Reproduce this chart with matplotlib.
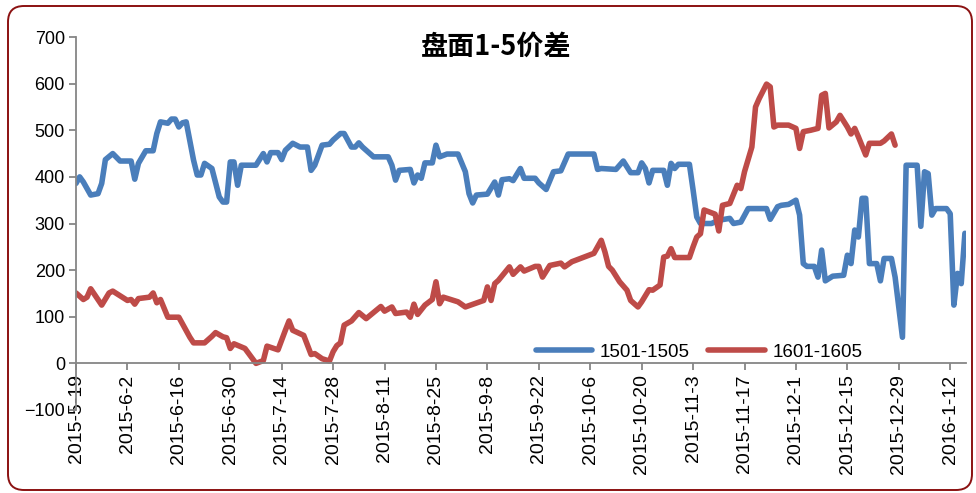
import matplotlib
matplotlib.use('Agg')
import matplotlib.pyplot as plt
import matplotlib.patches as mpatches
import matplotlib.dates as mdates
from matplotlib.transforms import IdentityTransform
import pandas as pd

plt.rcParams['font.family'] = ['Liberation Sans', 'Noto Sans CJK SC', 'DejaVu Sans']

TITLE = '盘面1-5价差'
SERIES_NAMES = ['1501-1505', '1601-1605']

# --- 1501-1505 spread ---
blue_dates = [
    '2015-05-19', '2015-05-20', '2015-05-21', '2015-05-23', '2015-05-25', '2015-05-26',
    '2015-05-27', '2015-05-29', '2015-05-31', '2015-06-03', '2015-06-04', '2015-06-05',
    '2015-06-07', '2015-06-09', '2015-06-10', '2015-06-11', '2015-06-13', '2015-06-14',
    '2015-06-15', '2015-06-16', '2015-06-17', '2015-06-18', '2015-06-20', '2015-06-21',
    '2015-06-22', '2015-06-23', '2015-06-25', '2015-06-27', '2015-06-28', '2015-06-29',
    '2015-06-30', '2015-07-01', '2015-07-02', '2015-07-03', '2015-07-07', '2015-07-09',
    '2015-07-10', '2015-07-11', '2015-07-13', '2015-07-14', '2015-07-15', '2015-07-17',
    '2015-07-19', '2015-07-21', '2015-07-22', '2015-07-23', '2015-07-25', '2015-07-27',
    '2015-07-28', '2015-07-30', '2015-07-31', '2015-08-02', '2015-08-03', '2015-08-04',
    '2015-08-05', '2015-08-08', '2015-08-12', '2015-08-13', '2015-08-14', '2015-08-15',
    '2015-08-18', '2015-08-19', '2015-08-20', '2015-08-21', '2015-08-22', '2015-08-24',
    '2015-08-25', '2015-08-26', '2015-08-28', '2015-08-31', '2015-09-02', '2015-09-03',
    '2015-09-04', '2015-09-05', '2015-09-08', '2015-09-10', '2015-09-11', '2015-09-12',
    '2015-09-14', '2015-09-15', '2015-09-17', '2015-09-18', '2015-09-21', '2015-09-22',
    '2015-09-24', '2015-09-26', '2015-09-28', '2015-09-30', '2015-10-07', '2015-10-08',
    '2015-10-09', '2015-10-13', '2015-10-15', '2015-10-17', '2015-10-19', '2015-10-20',
    '2015-10-21', '2015-10-22', '2015-10-23', '2015-10-26', '2015-10-27', '2015-10-28',
    '2015-10-29', '2015-10-30', '2015-11-02', '2015-11-03', '2015-11-04', '2015-11-05',
    '2015-11-08', '2015-11-10', '2015-11-13', '2015-11-14', '2015-11-16', '2015-11-18',
    '2015-11-23', '2015-11-24', '2015-11-26', '2015-11-27', '2015-11-29', '2015-12-01',
    '2015-12-02', '2015-12-03', '2015-12-04', '2015-12-06', '2015-12-07', '2015-12-08',
    '2015-12-09', '2015-12-11', '2015-12-14', '2015-12-15', '2015-12-16', '2015-12-17',
    '2015-12-18', '2015-12-19', '2015-12-20', '2015-12-21', '2015-12-23', '2015-12-24',
    '2015-12-25', '2015-12-27', '2015-12-28', '2015-12-30', '2015-12-31', '2016-01-03',
    '2016-01-04', '2016-01-05', '2016-01-06', '2016-01-07', '2016-01-08', '2016-01-11',
    '2016-01-12', '2016-01-13', '2016-01-14', '2016-01-15', '2016-01-16',
]
blue_vals = [
    386, 400, 389, 361, 364, 386,
    437, 450, 434, 434, 395, 429,
    456, 456, 493, 518, 515, 524,
    524, 507, 516, 518, 436, 404,
    404, 429, 418, 357, 346, 346,
    432, 432, 382, 425, 425, 450,
    432, 452, 452, 437, 457, 472,
    464, 464, 414, 425, 468, 470,
    479, 493, 493, 464, 464, 473,
    464, 443, 443, 425, 393, 414,
    416, 387, 404, 397, 430, 430,
    468, 443, 449, 449, 411, 364,
    344, 361, 363, 389, 361, 394,
    396, 392, 418, 397, 397, 387,
    373, 411, 413, 449, 449, 416,
    418, 416, 434, 409, 409, 430,
    418, 387, 414, 414, 382, 429,
    418, 427, 427, 372, 314, 300,
    300, 307, 311, 300, 303, 332,
    332, 309, 336, 339, 341, 350,
    318, 214, 208, 208, 185, 243,
    177, 187, 189, 232, 214, 286,
    271, 354, 354, 214, 214, 177,
    225, 225, 185, 56, 425, 425,
    294, 411, 407, 318, 332, 332,
    321, 125, 193, 171, 279,
]

# --- 1601-1605 spread ---
red_dates = [
    '2015-05-19', '2015-05-21', '2015-05-22', '2015-05-23', '2015-05-26', '2015-05-28',
    '2015-05-29', '2015-06-02', '2015-06-03', '2015-06-04', '2015-06-05', '2015-06-08',
    '2015-06-09', '2015-06-10', '2015-06-11', '2015-06-13', '2015-06-16', '2015-06-19',
    '2015-06-20', '2015-06-23', '2015-06-25', '2015-06-26', '2015-06-28', '2015-06-29',
    '2015-06-30', '2015-07-01', '2015-07-04', '2015-07-07', '2015-07-09', '2015-07-10',
    '2015-07-13', '2015-07-15', '2015-07-16', '2015-07-17', '2015-07-20', '2015-07-22',
    '2015-07-23', '2015-07-25', '2015-07-27', '2015-07-28', '2015-07-29', '2015-07-30',
    '2015-07-31', '2015-08-02', '2015-08-04', '2015-08-06', '2015-08-10', '2015-08-11',
    '2015-08-13', '2015-08-14', '2015-08-17', '2015-08-18', '2015-08-19', '2015-08-20',
    '2015-08-22', '2015-08-24', '2015-08-25', '2015-08-26', '2015-08-27', '2015-08-31',
    '2015-09-02', '2015-09-07', '2015-09-08', '2015-09-09', '2015-09-10', '2015-09-11',
    '2015-09-14', '2015-09-15', '2015-09-17', '2015-09-18', '2015-09-21', '2015-09-22',
    '2015-09-23', '2015-09-25', '2015-09-28', '2015-09-29', '2015-10-01', '2015-10-07',
    '2015-10-09', '2015-10-10', '2015-10-11', '2015-10-12', '2015-10-14', '2015-10-16',
    '2015-10-17', '2015-10-19', '2015-10-20', '2015-10-22', '2015-10-23', '2015-10-25',
    '2015-10-26', '2015-10-27', '2015-10-28', '2015-10-29', '2015-11-02', '2015-11-03',
    '2015-11-04', '2015-11-05', '2015-11-06', '2015-11-09', '2015-11-10', '2015-11-11',
    '2015-11-13', '2015-11-15', '2015-11-16', '2015-11-17', '2015-11-19', '2015-11-20',
    '2015-11-21', '2015-11-23', '2015-11-24', '2015-11-25', '2015-11-26', '2015-11-29',
    '2015-12-01', '2015-12-02', '2015-12-03', '2015-12-05', '2015-12-07', '2015-12-08',
    '2015-12-09', '2015-12-10', '2015-12-12', '2015-12-13', '2015-12-15', '2015-12-16',
    '2015-12-17', '2015-12-18', '2015-12-20', '2015-12-21', '2015-12-24', '2015-12-25',
    '2015-12-27', '2015-12-28',
]
red_vals = [
    151, 137, 142, 160, 125, 151,
    155, 135, 137, 127, 139, 142,
    151, 130, 137, 99, 99, 56,
    44, 44, 58, 66, 57, 55,
    32, 42, 32, 0, 6, 37,
    29, 71, 91, 71, 60, 19,
    21, 10, 5, 25, 38, 44,
    82, 91, 109, 96, 122, 112,
    121, 107, 110, 99, 127, 105,
    125, 137, 175, 128, 142, 132,
    121, 135, 164, 135, 171, 178,
    207, 191, 207, 198, 208, 208,
    185, 210, 215, 207, 218, 236,
    264, 239, 208, 200, 175, 157,
    135, 121, 132, 158, 157, 168,
    228, 230, 246, 227, 227, 250,
    271, 278, 329, 320, 284, 339,
    343, 382, 375, 411, 464, 550,
    568, 599, 593, 507, 511, 511,
    504, 461, 497, 500, 504, 575,
    579, 505, 518, 532, 507, 492,
    504, 486, 447, 472, 472, 477,
    492, 468,
]

tick_dates = pd.date_range('2015-05-19', '2016-01-12', freq='14D')
y_ticks = list(range(-100, 701, 100))

BLUE = '#4A7EBB'
RED = '#BE4B48'
GRAY = '#868686'

fig = plt.figure(figsize=(9.76, 4.93), dpi=100)
fig.patch.set_facecolor('white')

# rounded outer frame of the chart area
frame = mpatches.FancyBboxPatch((8, 3), 964, 484,
                                boxstyle='round,pad=0,rounding_size=16',
                                transform=IdentityTransform(),
                                facecolor='none', edgecolor='#8B1111', linewidth=1.4)
fig.patches.append(frame)

ax = fig.add_axes([76 / 976, 1 - 410 / 493, 890 / 976, 373 / 493])
ax.set_facecolor('none')

ax.plot(pd.to_datetime(blue_dates), blue_vals, color=BLUE, lw=4.0,
        solid_joinstyle='round', solid_capstyle='round', label=SERIES_NAMES[0])
ax.plot(pd.to_datetime(red_dates), red_vals, color=RED, lw=4.0,
        solid_joinstyle='round', solid_capstyle='round', label=SERIES_NAMES[1])

start = pd.Timestamp('2015-05-19')
ax.set_xlim(start, start + pd.Timedelta(days=242.3))
ax.set_ylim(-100, 700)
ax.set_yticks(y_ticks)
ax.set_xticks(tick_dates)
ax.xaxis.set_major_formatter(
    matplotlib.ticker.FuncFormatter(
        lambda v, pos: (lambda d: f'{d.year}-{d.month}-{d.day}')(mdates.num2date(v))))

for s in ['top', 'right']:
    ax.spines[s].set_visible(False)
ax.spines['bottom'].set_position(('data', 0))
ax.spines['bottom'].set_color(GRAY)
ax.spines['left'].set_color(GRAY)
ax.spines['bottom'].set_linewidth(1.3)
ax.spines['left'].set_linewidth(1.3)

ax.tick_params(axis='x', direction='out', length=5, width=1.3, color=GRAY,
               labelsize=14, labelrotation=90, pad=3)
ax.tick_params(axis='y', direction='out', length=5, width=1.3, color=GRAY,
               labelsize=13, pad=3)

fig.text(496 / 976, 1 - 47 / 493, TITLE, fontsize=19.5, fontweight='bold',
         family=['Noto Sans CJK SC', 'DejaVu Sans'], ha='center', va='center')

leg = ax.legend(loc='center', bbox_to_anchor=(0.70, 0.155), ncol=2, frameon=False,
                fontsize=13.5, handlelength=3.0, columnspacing=1.0, handletextpad=0.4)

fig.savefig('out.png', dpi=100, facecolor='white')
